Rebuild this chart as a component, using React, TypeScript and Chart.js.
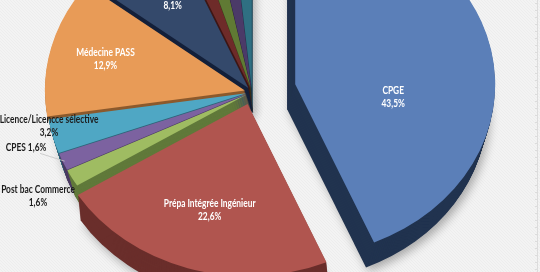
import React, { useEffect, useRef } from "react";
import { Chart, registerables } from "chart.js";

Chart.register(...registerables);

// ---- data ----
const categories = [
  "CPGE",
  "Prépa Intégrée Ingénieur",
  "Post bac Commerce",
  "CPES",
  "Licence/Licencce sélective",
  "Médecine PASS",
  "Université",
  "Autre 1",
  "Autre 2",
  "Autre 3",
  "Autre 4",
];
const counts = [27, 14, 1, 1, 2, 8, 5, 1, 1, 1, 1];

// ---- style ----
const topColors = [
  "#5b7fb8", "#b0554f", "#9fbc62", "#7c62a0", "#4fa7c4", "#e89b57",
  "#34496b", "#6e2b29", "#607a34", "#4b3a68", "#2f6f82",
];
const sideColors = [
  "#21334f", "#6a2e2b", "#60793a", "#4a3a62", "#2c6578", "#8c5a2d",
  "#14203a", "#3e1716", "#394a1e", "#2b2140", "#1b4350",
];
// explode distance (chart units, along the slice's mid angle)
const explode = [30, 10, 4, 4, 4, 5, 4, 3, 3, 3, 3];
// label placement: mode, radial factor, nudge
const labelMode = ["in", "in", "out2", "out1", "out2", "in", "in", "none", "none", "none", "none"];
const labelFactor = [0.5, 0.65, 1.2, 1.2, 1.05, 0.72, 0.7, 1, 1, 1, 1];
const labelNudgeX = [0, 1, 1, 0, 6, 0, 10, 0, 0, 0, 0];
const labelNudgeY = [30, -1, 1, -28, -13, 0, 6, 0, 0, 0, 0];

const CX = 252;
const CY = 92;
const RX = 200;
const RY = 172;
const DEPTH = 25;
const SIDE_SKEW = 0.33;
const TEXT_SX = 0.76;

const total = counts.reduce((a, b) => a + b, 0);
const pctText = (v: number) => ((v / total) * 100).toFixed(1).replace(".", ",") + "%";

function geom(chart: any) {
  const meta = chart.getDatasetMeta(0);
  const a0 = meta.data[0] as any;
  const r = a0.outerRadius;
  const o = chart.$pieOrigin || { x: a0.x, y: a0.y };
  return { meta, r, sx: RX / r, sy: RY / r, ox: o.x, oy: o.y };
}

function arcInfo(el: any) {
  const p = el.getProps(["x", "y", "startAngle", "endAngle", "outerRadius"], true);
  return {
    cx: p.x,
    cy: p.y,
    r: p.outerRadius,
    start: p.startAngle,
    end: p.endAngle,
    mid: (p.startAngle + p.endAngle) / 2,
  };
}

const tiltPlugin = {
  id: "tilt3d",
  afterDatasetUpdate(chart: any, args: any) {
    const meta = args.meta;
    if (!meta || !meta.data.length) return;
    const a0 = meta.data[0];
    const origin = { x: a0.x, y: a0.y };
    chart.$pieOrigin = origin;
    meta.data.forEach((el: any, i: number) => {
      const mid = (el.startAngle + el.endAngle) / 2;
      const e = explode[i] || 0;
      el.x = origin.x + Math.cos(mid) * e;
      el.y = origin.y + Math.sin(mid) * e;
    });
  },
  beforeDraw(chart: any) {
    const ctx = chart.ctx;
    ctx.save();
    ctx.fillStyle = "#f3f3f3";
    ctx.fillRect(0, 0, chart.width, chart.height);
    ctx.strokeStyle = "rgba(0,0,0,0.025)";
    ctx.lineWidth = 1;
    for (let i = -chart.height; i < chart.width; i += 3) {
      ctx.beginPath();
      ctx.moveTo(i, 0);
      ctx.lineTo(i + chart.height, chart.height);
      ctx.stroke();
    }
    ctx.strokeStyle = "#dcdcdc";
    ctx.beginPath();
    ctx.moveTo(537.5, 0);
    ctx.lineTo(537.5, chart.height);
    ctx.stroke();
    for (let y = 3; y < chart.height; y += 7) {
      ctx.beginPath();
      ctx.moveTo(535, y + 0.5);
      ctx.lineTo(538, y + 0.5);
      ctx.stroke();
    }
    ctx.restore();
  },
  beforeDatasetsDraw(chart: any) {
    const ctx = chart.ctx;
    const g = geom(chart);
    const infos = g.meta.data.map((el: any) => arcInfo(el));
    for (let d = DEPTH; d >= 1; d--) {
      infos.forEach((a: any, i: number) => {
        ctx.save();
        ctx.translate(CX - SIDE_SKEW * d * Math.cos(a.mid), CY + d);
        ctx.scale(g.sx, g.sy);
        ctx.translate(-g.ox, -g.oy);
        if (d === DEPTH) {
          ctx.shadowColor = "rgba(0,0,0,0.3)";
          ctx.shadowBlur = 10;
          ctx.shadowOffsetX = 3;
          ctx.shadowOffsetY = 4;
        }
        ctx.fillStyle = sideColors[i];
        ctx.beginPath();
        ctx.moveTo(a.cx, a.cy);
        ctx.arc(a.cx, a.cy, a.r, a.start, a.end);
        ctx.closePath();
        ctx.fill();
        ctx.restore();
      });
    }
    ctx.save();
    ctx.translate(CX, CY);
    ctx.scale(g.sx, g.sy);
    ctx.translate(-g.ox, -g.oy);
  },
  afterDatasetsDraw(chart: any) {
    chart.ctx.restore();
  },
  afterDraw(chart: any) {
    const ctx = chart.ctx;
    const g = geom(chart);
    ctx.save();
    ctx.textAlign = "center";
    ctx.textBaseline = "middle";
    ctx.font = "bold 11px Lato, 'Open Sans', sans-serif";
    const text = (s: string, x: number, y: number) => {
      ctx.save();
      ctx.translate(x, y);
      ctx.scale(TEXT_SX, 1);
      ctx.fillText(s, 0, 0);
      ctx.restore();
    };
    g.meta.data.forEach((el: any, i: number) => {
      const mode = labelMode[i];
      if (mode === "none") return;
      const a = arcInfo(el);
      const f = labelFactor[i];
      const nx = a.cx + Math.cos(a.mid) * a.r * f;
      const ny = a.cy + Math.sin(a.mid) * a.r * f;
      const x = CX + (nx - g.ox) * g.sx + labelNudgeX[i];
      const y = CY + (ny - g.oy) * g.sy + labelNudgeY[i];
      const name = categories[i];
      const pct = pctText(counts[i]);
      ctx.fillStyle = mode === "in" ? "#ffffff" : "#1c1c1c";
      if (mode === "out1") {
        text(name + " " + pct, x, y);
        const rx = a.cx + Math.cos(a.mid) * a.r * 0.99;
        const ry = a.cy + Math.sin(a.mid) * a.r * 0.99;
        const sx2 = CX + (rx - g.ox) * g.sx;
        const sy2 = CY + (ry - g.oy) * g.sy;
        ctx.strokeStyle = "#c4c4c4";
        ctx.lineWidth = 0.8;
        ctx.beginPath();
        ctx.moveTo(x + 14, y + 6);
        ctx.lineTo(sx2, sy2);
        ctx.stroke();
      } else {
        text(name, x, y - 6.5);
        text(pct, x, y + 6.5);
      }
    });
    ctx.restore();
  },
};

export default function App() {
  const ref = useRef<HTMLCanvasElement | null>(null);
  useEffect(() => {
    document.body.style.margin = "0";
    const canvas = ref.current;
    if (!canvas) return;
    const chart = new Chart(canvas, {
      type: "pie",
      data: {
        labels: categories,
        datasets: [
          {
            data: counts,
            backgroundColor: topColors,
            borderWidth: 0,
            clip: false as any,
          } as any,
        ],
      },
      options: {
        responsive: false,
        animation: false,
        devicePixelRatio: 1,
        layout: { padding: 0 },
        plugins: {
          legend: { display: false },
          tooltip: { enabled: false },
        },
      },
      plugins: [tiltPlugin],
    });
    return () => chart.destroy();
  }, []);
  return (
    <div style={{ width: 540, height: 272, overflow: "hidden" }}>
      <canvas ref={ref} width={540} height={272} style={{ display: "block", width: 540, height: 272 }} />
    </div>
  );
}
